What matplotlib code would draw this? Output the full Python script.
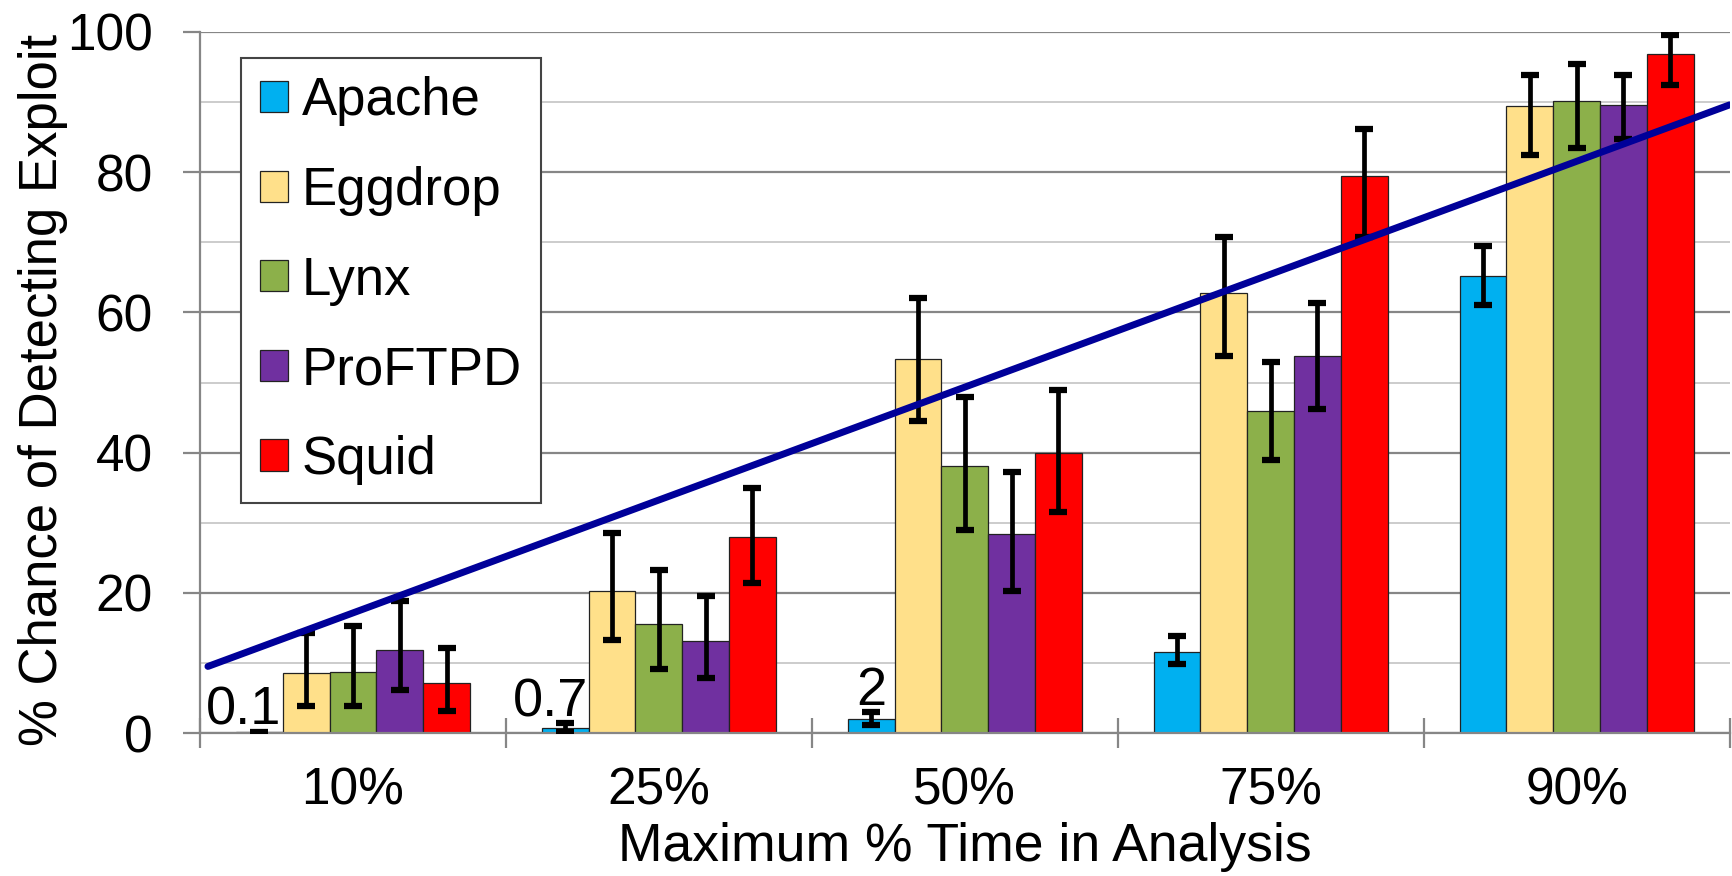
import numpy as np
import matplotlib
matplotlib.use("Agg")
import matplotlib.pyplot as plt

plt.rcParams['font.family'] = ['Liberation Sans', 'DejaVu Sans']

categories = ['10%', '25%', '50%', '75%', '90%']
programs = ['Apache', 'Eggdrop', 'Lynx', 'ProFTPD', 'Squid']
colors = ['#00B0F0', '#FFE08A', '#8CB04A', '#7030A0', '#FF0000']

# bar heights, one list per program (values for 10%, 25%, 50%, 75%, 90%)
apache = [0.1, 0.7, 2.0, 11.6, 65.2]
eggdrop = [8.5, 20.3, 53.3, 62.7, 89.4]
lynx = [8.7, 15.6, 38.1, 45.9, 90.1]
proftpd = [11.8, 13.1, 28.4, 53.8, 89.6]
squid = [7.1, 28.0, 40.0, 79.5, 96.8]

# error bar ends (low, high)
apache_lo = [0.0, 0.2, 1.1, 9.8, 61.0]
apache_hi = [0.2, 1.4, 3.0, 13.9, 69.5]
eggdrop_lo = [3.9, 13.3, 44.5, 53.8, 82.4]
eggdrop_hi = [14.3, 28.5, 62.0, 70.8, 93.8]
lynx_lo = [3.8, 9.1, 29.0, 39.0, 83.5]
lynx_hi = [15.2, 23.3, 48.0, 52.9, 95.4]
proftpd_lo = [6.1, 7.9, 20.3, 46.2, 84.8]
proftpd_hi = [18.8, 19.5, 37.2, 61.3, 93.8]
squid_lo = [3.2, 21.4, 31.5, 70.8, 92.5]
squid_hi = [12.2, 34.9, 49.0, 86.2, 99.6]

# numbers written above the small Apache bars
apache_labels = ['0.1', '0.7', '2']

# straight trend line drawn across the chart
trend_x = [0.026, 5.0]
trend_y = [9.5, 89.6]

values = [apache, eggdrop, lynx, proftpd, squid]
lows = [apache_lo, eggdrop_lo, lynx_lo, proftpd_lo, squid_lo]
highs = [apache_hi, eggdrop_hi, lynx_hi, proftpd_hi, squid_hi]

fig = plt.figure(figsize=(17.33, 8.76), dpi=100)
ax = fig.add_axes([0.1154, 0.1632, 0.8826, 0.8003])

grid_dark = '#868686'
grid_light = '#cccccc'
x = np.arange(len(categories)) + 0.5
w = 0.153

for i, (name, vals, lo, hi, c) in enumerate(zip(programs, values, lows, highs, colors)):
    vals = np.array(vals)
    yerr = [vals - np.array(lo), np.array(hi) - vals]
    ax.bar(x + (i - 2) * w, vals, w, color=c, edgecolor='#222222', linewidth=0.9,
           label=name, zorder=2)
    ax.errorbar(x + (i - 2) * w, vals, yerr=yerr, fmt='none', ecolor='black',
                elinewidth=3.4, capsize=6.5, capthick=4.5, zorder=3)

# value labels on the first three Apache bars (shifted left where they are wide)
shifts = [-0.05, -0.048, 0.0]
for k, txt in enumerate(apache_labels):
    ax.text(x[k] - 2 * w + shifts[k], apache_hi[k] + 1.0, txt,
            ha='center', va='baseline', fontsize=39, zorder=4)

ax.plot(trend_x, trend_y, color='#000099', linewidth=5, solid_capstyle='round', zorder=5)

ax.set_xlim(0, 5)
ax.set_ylim(0, 100)
ax.set_yticks(np.arange(0, 101, 20))
ax.set_yticks(np.arange(10, 100, 20), minor=True)
ax.set_xticks(x)
ax.set_xticklabels(categories)
ax.set_xticks(np.arange(0, 6), minor=True)

ax.grid(axis='y', which='major', color=grid_dark, linewidth=1.6, zorder=0)
ax.grid(axis='y', which='minor', color=grid_light, linewidth=1.4, zorder=0)
ax.set_axisbelow(True)

ax.tick_params(axis='y', which='major', direction='out', length=12, width=1.6,
               color=grid_dark, pad=22, labelsize=37)
ax.tick_params(axis='y', which='minor', length=0)
ax.tick_params(axis='x', which='major', length=0, pad=24, labelsize=37)
ax.tick_params(axis='x', which='minor', direction='inout', length=22, width=1.6,
               color=grid_dark)

for s in ['top', 'right']:
    ax.spines[s].set_visible(False)
for s in ['left', 'bottom']:
    ax.spines[s].set_color(grid_dark)
    ax.spines[s].set_linewidth(1.6)

ax.set_xlabel('Maximum % Time in Analysis', fontsize=38.5, labelpad=5)
ax.set_ylabel('% Chance of Detecting Exploit', fontsize=38)
ax.yaxis.set_label_coords(-0.086, 0.49)

leg = ax.legend(loc='upper left', bbox_to_anchor=(0.027, 0.963), fontsize=38,
                frameon=True, fancybox=False, framealpha=1, edgecolor='#444444',
                handlelength=0.53, handleheight=0.53, handletextpad=0.27,
                labelspacing=0.75, borderpad=0.35, borderaxespad=0)
leg.get_frame().set_linewidth(1.5)
leg.set_zorder(6)

plt.savefig('out.png', dpi=100)
